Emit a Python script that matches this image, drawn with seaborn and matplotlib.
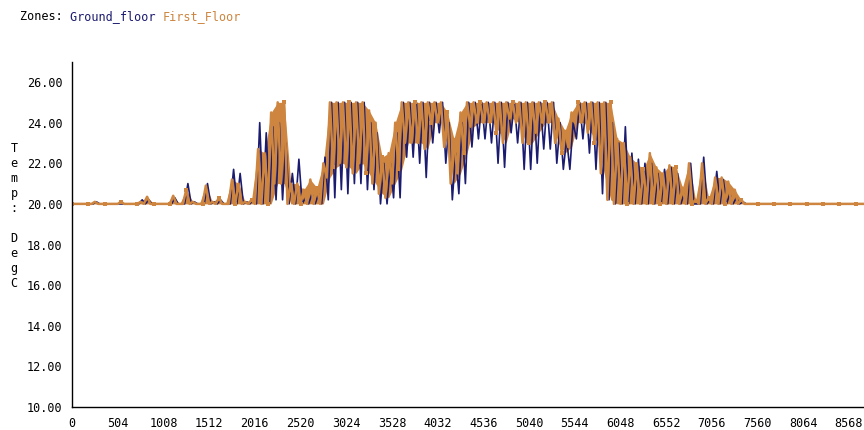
import numpy as np
import pandas as pd
import matplotlib
matplotlib.use("Agg")
import matplotlib.pyplot as plt
import seaborn as sns
from matplotlib.ticker import MultipleLocator, FormatStrFormatter

# Zone air temperatures over the year, summarised as 72-hour blocks:
# the lowest and highest reading inside each block (deg C).
BLOCK_HOURS = 72

ground_hi = [20.0, 20.0, 20.0, 20.1, 20.0, 20.0, 20.0, 20.0, 20.0, 20.0,
             20.2, 20.2, 20.0, 20.0, 20.0, 20.3, 20.0, 21.0, 20.1, 20.0,
             21.0, 20.1, 20.2, 20.0, 21.7, 21.5, 20.1, 20.2, 24.0, 23.5,
             23.8, 24.0, 23.0, 21.5, 22.2, 20.3, 20.5, 20.5, 22.3, 25.0,
             25.0, 25.0, 25.0, 25.0, 25.0, 24.0, 23.5, 22.0, 22.0, 23.5,
             25.0, 25.0, 25.0, 25.0, 25.0, 25.0, 25.0, 24.0, 22.5, 24.0,
             25.0, 25.0, 25.0, 25.0, 25.0, 25.0, 25.0, 25.0, 25.0, 25.0,
             25.0, 25.0, 25.0, 25.0, 24.0, 23.2, 24.0, 25.0, 25.0, 25.0,
             25.0, 25.0, 24.0, 23.0, 23.8, 22.5, 22.2, 22.0, 22.0, 21.5,
             21.7, 21.8, 21.5, 20.5, 22.0, 20.0, 22.3, 20.2, 21.6, 21.2,
             20.5, 20.3, 20.1, 20.0, 20.0, 20.0, 20.0, 20.0, 20.0, 20.0,
             20.0, 20.0, 20.0, 20.0, 20.0, 20.0, 20.0, 20.0, 20.0, 20.0,
             20.0, 20.0]

ground_lo = [20.0, 20.0, 20.0, 20.0, 20.0, 20.0, 20.0, 20.0, 20.0, 20.0,
             20.0, 20.0, 20.0, 20.0, 20.0, 20.0, 20.0, 20.0, 20.0, 20.0,
             20.0, 20.0, 20.0, 20.0, 20.0, 20.0, 20.0, 20.0, 20.0, 20.0,
             20.0, 20.2, 20.2, 20.0, 20.0, 20.0, 20.0, 20.0, 20.0, 20.2,
             20.3, 20.7, 20.5, 21.0, 21.0, 20.7, 20.7, 20.0, 20.0, 20.3,
             20.3, 22.3, 22.3, 22.0, 21.3, 23.0, 23.5, 22.0, 20.2, 20.5,
             21.0, 22.8, 23.2, 23.2, 23.0, 22.0, 21.8, 23.5, 23.0, 21.7,
             21.7, 22.0, 22.7, 22.7, 22.0, 21.7, 21.7, 23.2, 23.2, 22.5,
             21.7, 20.5, 20.2, 20.0, 20.0, 20.0, 20.0, 20.0, 20.0, 20.0,
             20.0, 20.0, 20.0, 20.0, 20.0, 20.0, 20.0, 20.0, 20.0, 20.0,
             20.0, 20.0, 20.0, 20.0, 20.0, 20.0, 20.0, 20.0, 20.0, 20.0,
             20.0, 20.0, 20.0, 20.0, 20.0, 20.0, 20.0, 20.0, 20.0, 20.0,
             20.0, 20.0]

first_hi = [20.0, 20.0, 20.0, 20.1, 20.0, 20.0, 20.0, 20.1, 20.0, 20.0,
            20.1, 20.35, 20.0, 20.0, 20.0, 20.4, 20.0, 20.7, 20.1, 20.0,
            20.9, 20.1, 20.3, 20.0, 21.2, 21.0, 20.1, 20.2, 22.7, 22.5,
            24.5, 25.0, 25.0, 21.0, 21.0, 20.7, 21.2, 20.8, 22.0, 25.0,
            25.0, 25.0, 25.0, 25.0, 25.0, 24.6, 24.0, 22.3, 22.5, 24.0,
            25.0, 25.0, 25.0, 25.0, 25.0, 25.0, 25.0, 24.5, 23.2, 24.5,
            25.0, 25.0, 25.0, 25.0, 25.0, 25.0, 25.0, 25.0, 25.0, 25.0,
            25.0, 25.0, 25.0, 25.0, 24.2, 23.6, 24.5, 25.0, 25.0, 25.0,
            25.0, 25.0, 25.0, 23.2, 23.0, 22.3, 22.0, 21.7, 22.5, 21.8,
            21.5, 21.9, 21.8, 20.8, 22.0, 20.2, 22.0, 20.3, 21.3, 21.3,
            21.1, 20.7, 20.2, 20.0, 20.0, 20.0, 20.0, 20.0, 20.0, 20.0,
            20.0, 20.0, 20.0, 20.0, 20.0, 20.0, 20.0, 20.0, 20.0, 20.0,
            20.0, 20.0]

first_lo = [20.0, 20.0, 20.0, 20.0, 20.0, 20.0, 20.0, 20.0, 20.0, 20.0,
            20.0, 20.0, 20.0, 20.0, 20.0, 20.0, 20.0, 20.0, 20.0, 20.0,
            20.0, 20.0, 20.0, 20.0, 20.0, 20.0, 20.0, 20.0, 20.0, 20.0,
            20.0, 21.0, 21.0, 20.0, 20.0, 20.0, 20.0, 20.0, 20.0, 21.3,
            21.8, 22.0, 21.8, 21.5, 22.0, 21.5, 21.0, 20.5, 20.3, 21.0,
            21.7, 23.0, 23.0, 23.0, 22.7, 24.0, 24.0, 22.8, 21.0, 21.5,
            22.5, 23.8, 24.0, 24.0, 24.0, 23.5, 23.0, 24.2, 24.0, 23.0,
            23.0, 23.5, 24.0, 24.0, 23.0, 22.5, 22.8, 24.0, 24.0, 23.5,
            23.0, 21.5, 20.2, 20.0, 20.0, 20.0, 20.0, 20.0, 20.0, 20.0,
            20.0, 20.0, 20.0, 20.0, 20.0, 20.0, 20.0, 20.0, 20.0, 20.0,
            20.0, 20.0, 20.0, 20.0, 20.0, 20.0, 20.0, 20.0, 20.0, 20.0,
            20.0, 20.0, 20.0, 20.0, 20.0, 20.0, 20.0, 20.0, 20.0, 20.0,
            20.0, 20.0]

zones = ["Ground_floor", "First_Floor"]
zone_colors = {"Ground_floor": "#1b1b70", "First_Floor": "#cd853f"}
zone_offsets = {"Ground_floor": 18, "First_Floor": 0}
x_ticks_major = 504
x_ticks_minor = 168
y_ticks = [10, 12, 14, 16, 18, 20, 22, 24, 26]


def block_trace(zone, lo, hi, offset):
    """Alternate each block's low and high reading along the hour axis."""
    rows = []
    for i, (l, h) in enumerate(zip(lo, hi)):
        t0 = i * BLOCK_HOURS + offset
        rows.append((zone, t0, l))
        rows.append((zone, t0 + BLOCK_HOURS / 2, h))
    return rows


sns.set_theme(style="white")
plt.rcParams["font.family"] = ["DejaVu Sans Mono"]
FS = 8.5

W, H = 864, 430
fig = plt.figure(figsize=(W / 100, H / 100), dpi=100)
x0, x1 = 72, 866.4
y_bot, y_top = 407, 61.7
ax = fig.add_axes([x0 / W, 1 - y_bot / H, (x1 - x0) / W, (y_bot - y_top) / H])

line_kw = dict(estimator=None, sort=False, legend=False, ax=ax)

# First floor block range as a band at the back
centres = np.arange(len(first_lo)) * BLOCK_HOURS + BLOCK_HOURS / 2
ax.fill_between(centres, first_lo, first_hi, color=zone_colors["First_Floor"],
                lw=0, zorder=2)

# Ground floor trace, then the first floor trace (with point marks) over it
g_df = pd.DataFrame(block_trace("Ground_floor", ground_lo, ground_hi,
                                zone_offsets["Ground_floor"]),
                    columns=["zone", "hour", "temp"])
sns.lineplot(data=g_df, x="hour", y="temp", color=zone_colors["Ground_floor"],
             lw=1.2, zorder=3, **line_kw)

f_df = pd.DataFrame(block_trace("First_Floor", first_lo, first_hi,
                                zone_offsets["First_Floor"]),
                    columns=["zone", "hour", "temp"])
sns.lineplot(data=f_df, x="hour", y="temp", color=zone_colors["First_Floor"],
             lw=1.8, zorder=4, marker="s", markersize=3.2, markeredgewidth=0,
             markevery=5, **line_kw)

ax.set_xlim(0, 8760)
ax.set_ylim(10, 27)
ax.xaxis.set_major_locator(MultipleLocator(x_ticks_major))
ax.xaxis.set_minor_locator(MultipleLocator(x_ticks_minor))
ax.set_yticks(y_ticks)
ax.yaxis.set_major_formatter(FormatStrFormatter("%.2f"))
ax.set_xlabel("")
ax.set_ylabel("")
ax.tick_params(axis="both", which="both", direction="out", length=5,
               width=1, color="black", labelsize=FS, labelcolor="black")
ax.tick_params(axis="y", length=6.5, pad=0.5)
ax.tick_params(axis="x", pad=2)
for side in ("top", "right"):
    ax.spines[side].set_visible(False)
for side in ("left", "bottom"):
    ax.spines[side].set_color("black")
    ax.spines[side].set_linewidth(1)
    ax.spines[side].set_zorder(8)

# Vertical, one-letter-per-line axis caption
fig.text(14 / W, 1 - 216 / H, "\n".join("Temp: DegC"), ha="center",
         va="center", fontsize=FS, linespacing=1.2, color="black")

# Header naming the zones in their line colours
renderer = fig.canvas.get_renderer()
x_pos = 20 / W
for piece, col in [("Zones: ", "black"), ("Ground_floor ", zone_colors["Ground_floor"]),
                   ("First_Floor", zone_colors["First_Floor"])]:
    t = fig.text(x_pos, 1 - 17 / H, piece, ha="left", va="center",
                 fontsize=FS, color=col)
    bb = t.get_window_extent(renderer=renderer)
    x_pos += bb.width / W

fig.savefig("out.png", dpi=100)
